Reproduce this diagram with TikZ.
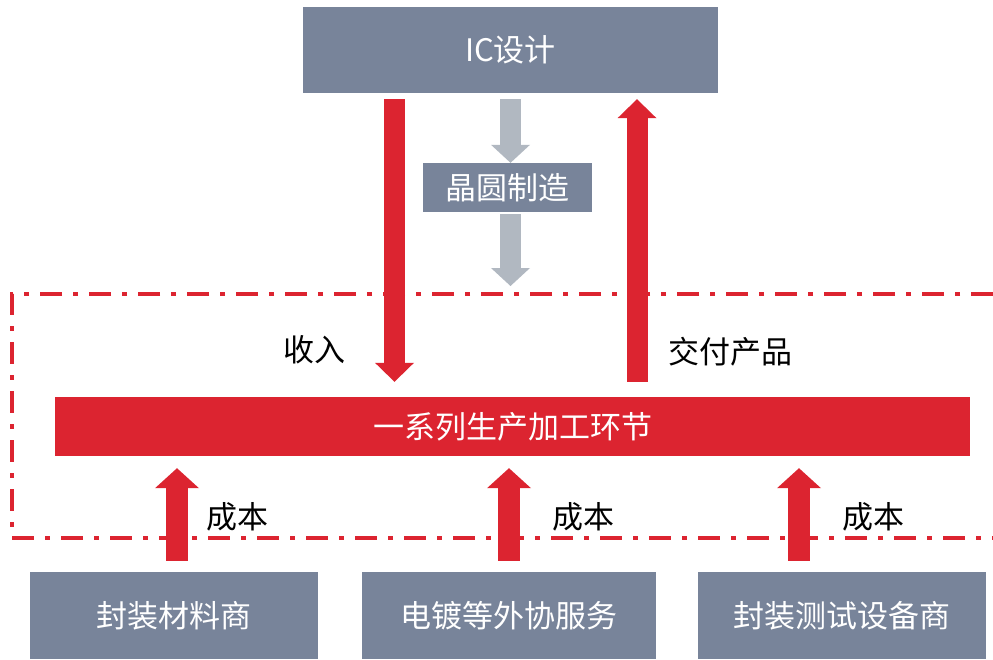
\documentclass[tikz,border=0pt]{standalone}
\usepackage{fontspec}
\setmainfont{Noto Sans CJK SC}
\usetikzlibrary{arrows.meta,calc}
\definecolor{boxgray}{HTML}{78849A}
\definecolor{lightarrow}{HTML}{B1B8C1}
\definecolor{mred}{HTML}{DC2430}
\begin{document}
\begin{tikzpicture}[x=1pt,y=-1pt,
  txt/.style={font=\fontsize{31}{36}\selectfont, inner sep=0pt},
  graybox/.style={txt, fill=boxgray, draw=none, text=white},
  redbar/.style={txt, fill=mred, draw=none, text=white},
  lbl/.style={txt, text=black},
  grayarrow/.style={draw=lightarrow, line width=21pt, -{Triangle[width=39pt,length=18pt,line width=0pt]}},
  redarrow/.style={draw=mred, line width=21pt, -{Triangle[width=39pt,length=19pt,line width=0pt]}},
  costarrow/.style={draw=mred, line width=22pt, -{Triangle[width=44pt,length=20pt,line width=0pt]}},
  dashdot/.style={draw=mred, line width=4.5pt, dash pattern=on 22pt off 11pt on 5pt off 11pt}
]
\useasboundingbox (0,0) rectangle (993,659);
\fill[white] (0,0) rectangle (993,659);

% boundary of the production region
\draw[dashdot] (993,294) -- (12,294) -- (12,538) -- (993,538);

% nodes
\node[graybox, minimum width=415, minimum height=86] (ic) at (510.5,50) {IC设计};
\node[graybox, minimum width=169, minimum height=49] (wafer) at (507.5,187.5) {晶圆制造};
\node[redbar, minimum width=915, minimum height=59] (bar) at (512.5,426.5) {一系列生产加工环节};
\node[graybox, minimum width=288, minimum height=87] (b1) at (174,615.5) {封装材料商};
\node[graybox, minimum width=294, minimum height=87] (b2) at (509,615.5) {电镀等外协服务};
\node[graybox, minimum width=288, minimum height=87] (b3) at (842,615.5) {封装测试设备商};

% x positions of arrows
\coordinate (gx) at (510.5,0);
\coordinate (rd) at (394.5,0);
\coordinate (ru) at (637,0);
\coordinate (a1) at (177,0);
\coordinate (a2) at (509,0);
\coordinate (a3) at (799,0);
\coordinate (gend) at (510.5,286);

% wafer flow
\draw[grayarrow] ($(ic.south -| gx)+(0,6)$) -- (wafer.north -| gx);
\draw[grayarrow] ($(wafer.south -| gx)+(0,2)$) -- (gend);

% revenue / delivery
\draw[redarrow] ($(ic.south -| rd)+(0,6)$) -- ($(bar.north -| rd)+(0,-15)$);
\draw[redarrow] ($(bar.north -| ru)+(0,-15)$) -- ($(ic.south -| ru)+(0,6)$);

% costs
\draw[costarrow] ($(b1.north -| a1)+(0,-11)$) -- ($(bar.south -| a1)+(0,12)$);
\draw[costarrow] ($(b2.north -| a2)+(0,-11)$) -- ($(bar.south -| a2)+(0,12)$);
\draw[costarrow] ($(b3.north -| a3)+(0,-11)$) -- ($(bar.south -| a3)+(0,12)$);

% labels
\node[lbl] (l1) at (314,350) {收入};
\node[lbl] (l2) at (730,352) {交付产品};
\node[lbl] (c1) at (237,517) {成本};
\node[lbl] (c2) at (583,517) {成本};
\node[lbl] (c3) at (873,517) {成本};
\end{tikzpicture}
\end{document}
